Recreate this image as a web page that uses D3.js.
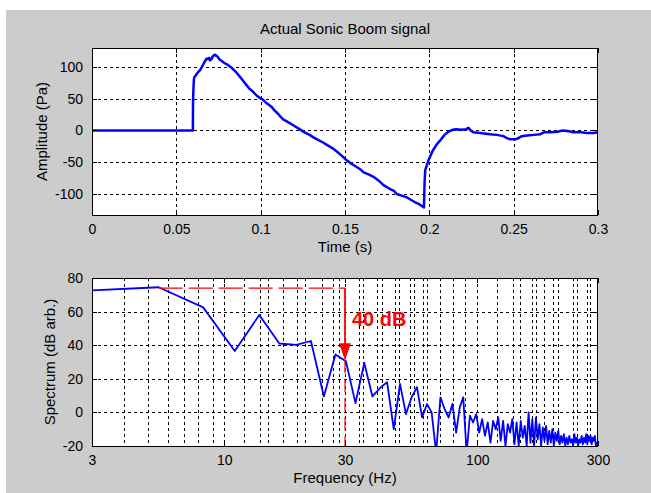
<!DOCTYPE html>
<html><head><meta charset="utf-8">
<script src="https://cdn.jsdelivr.net/npm/d3@7/dist/d3.min.js"></script>
<style>body{margin:0;background:#fff}svg{display:block}text{font-family:"Liberation Sans",Arial,Helvetica,sans-serif;fill:#000}</style>
</head><body><svg id="c" width="651" height="493"></svg>
<script>
// ---------- data ----------
const chartTitle = "Actual Sonic Boom signal";
const topXLabel = "Time (s)";
const topYLabel = "Amplitude (Pa)";
const botXLabel = "Frequency (Hz)";
const botYLabel = "Spectrum (dB arb.)";

const timeTicks = [0, 0.05, 0.1, 0.15, 0.2, 0.25, 0.3];
const timeTickLabels = ["0", "0.05", "0.1", "0.15", "0.2", "0.25", "0.3"];
const ampTicks = [-100, -50, 0, 50, 100];
const ampTickLabels = ["-100", "-50", "0", "50", "100"];
const freqTicks = [3, 10, 30, 100, 300];
const freqTickLabels = ["3", "10", "30", "100", "300"];
const dbTicks = [-20, 0, 20, 40, 60, 80];
const dbTickLabels = ["-20", "0", "20", "40", "60", "80"];
const freqGrid = [4, 5, 6, 6.9, 7.9, 9, 10, 12, 13.8, 14.9, 17.1, 19.4, 20.8, 24.3, 26.9, 28.4, 30,
  34.1, 35.4, 40.1, 42, 47.3, 49, 54.2, 56.2, 61, 63.3, 71.2, 80.2, 89.4, 100,
  119.7, 138.4, 147.5, 164.5, 170.6, 183.6, 199, 208.5, 238.9, 247.8, 271.4, 279];

const signalTime = [0, 0.0598, 0.0599, 0.0601, 0.0604, 0.0607, 0.0614, 0.0621, 0.0630, 0.0641, 0.0650, 0.0660,
  0.0670, 0.0680, 0.0688, 0.0695, 0.0700, 0.0708, 0.0715, 0.0722, 0.0730, 0.0738, 0.0745, 0.0755, 0.0765,
  0.0775, 0.0785, 0.0800, 0.0815, 0.0830, 0.0845, 0.0860, 0.0875, 0.0890, 0.0905, 0.0920, 0.0935, 0.0950,
  0.0965, 0.0980, 0.0995, 0.1010, 0.1030, 0.1050, 0.1065, 0.1080, 0.1100, 0.1120, 0.1135, 0.1150, 0.1170,
  0.1200, 0.1230, 0.1260, 0.1290, 0.1313, 0.1340, 0.1370, 0.1400, 0.1432, 0.1460, 0.1490, 0.1510, 0.1530,
  0.1560, 0.1590, 0.1610, 0.1640, 0.1669, 0.1700, 0.1728, 0.1760, 0.1790, 0.1807, 0.1840, 0.1866, 0.1890,
  0.1916, 0.1940, 0.1962, 0.1968, 0.1972, 0.1976, 0.1985, 0.1995, 0.2020, 0.2044, 0.2070, 0.2090, 0.2104,
  0.2120, 0.2140, 0.2160, 0.2190, 0.2220, 0.2232, 0.2245, 0.2261, 0.2300, 0.2360, 0.2400, 0.2439, 0.2460,
  0.2480, 0.2509, 0.2530, 0.2548, 0.2580, 0.2620, 0.2657, 0.2680, 0.2720, 0.2760, 0.2790, 0.2820, 0.2855,
  0.2900, 0.2934, 0.2973, 0.3000];
const signalAmp = [0, 0, 45, 63, 80, 84, 86, 89, 92, 95, 99, 104,
  109, 113, 112, 114, 110, 112, 116, 118, 119, 117, 116, 112, 110,
  108, 106, 104, 101, 98, 94, 90, 85, 80, 75, 70, 65, 62,
  58, 54, 51, 49, 44, 40, 37, 32, 27, 21, 17, 15, 12,
  7, 2, -3, -7, -11, -15, -19, -24, -29, -35, -42, -47, -51,
  -56, -61, -66, -69, -73, -79, -86, -91, -95, -100, -103, -105, -109,
  -113, -116, -120, -121, -80, -62, -55, -47, -32, -22, -14, -7, -4,
  -1, 1, 2, 1, 2, 4, 0, -3, -4, -6, -7, -9, -12,
  -14, -14, -12, -9, -8, -7, -6, -3, -3, -2, 0, -1, -3,
  -3, -4, -4, -3];

const specFreq = [2.75, 5.5, 8.25, 11, 13.75, 16.5, 19.25, 22, 24.75, 27.5, 30.25, 33, 35.75, 38.5, 41.25,
  44, 46.75, 49.5, 52.25, 55, 57.75, 60.5, 63.25, 66, 68.75, 71.5, 74.25, 77, 79.75, 82.5, 85.25, 88, 90.75,
  93.5, 96.25, 99, 101.75, 104.5, 107.25, 110, 112.75, 115.5, 118.25, 121, 123.75, 126.5, 129.25, 132, 134.75,
  137.5, 140.25, 143, 145.75, 148.5, 151.25, 154, 156.75, 159.5, 162.25, 165, 167.75, 170.5, 173.25, 176,
  178.75, 181.5, 184.25, 187, 189.75, 192.5, 195.25, 198, 200.75, 203.5, 206.25, 209, 211.75, 214.5, 217.25,
  220, 222.75, 225.5, 228.25, 231, 233.75, 236.5, 239.25, 242, 244.75, 247.5, 250.25, 253, 255.75, 258.5,
  261.25, 264, 266.75, 269.5, 272.25, 275, 277.75, 280.5, 283.25, 286, 288.75, 291.5, 294.25, 297, 299.75];
const specDb = [72.3, 74.5, 62.5, 36.5, 58, 41, 40.2, 42.5, 9.5, 34.5, 30.5, 5.5, 29.5, 9.5, 14.5,
  18, -10, 17, -1, 9, 15, -3, 5, 0, -24, 9, 2, -3, 5, -12, 3, 9, -24,
  -2, -6, -1, -12, -4, -14, -6, -18, -5, -10, -3, -17, -5, -20, -7, -12,
  -4, -19, -6, -20, -5, -15, -8, -20, 0, -18, -4, -20, -3, -16, -7,
  -20, -9, -17, -8, -19, -11, -18, -10, -20, -12, -17, -11, -19, -14, -18,
  -13, -20, -15, -19, -14, -18, -16, -20, -13, -18, -15, -20, -16, -18, -14,
  -19, -15, -18, -13, -19, -14, -17, -14, -19, -15, -17, -14, -20, -18, -19];

const annotStartFreq = 5.5, annotFreq = 30, annotLevel = 74, annotTip = 31, annotBottom = -20;
const annotText = "40 dB";

// ---------- layout ----------
const svg = d3.select("#c");
svg.append("rect").attr("x", 0).attr("y", 0).attr("width", 651).attr("height", 493).attr("fill", "#fff");
svg.append("rect").attr("x", 6).attr("y", 10).attr("width", 645).attr("height", 483).attr("fill", "#cccccc");

const L = 92, R = 598;
const top1 = 48, bot1 = 215, top2 = 278, bot2 = 446;

const xT = d3.scaleLinear().domain([0, 0.3]).range([L, R]);
const yA = d3.scaleLinear().domain([-133, 129.6]).range([bot1, top1]);
const xF = d3.scaleLog().domain([3, 300]).range([L, R]);
const yD = d3.scaleLinear().domain([-20, 80]).range([bot2, top2]);

const gridStyle = g => g.attr("stroke", "#000").attr("stroke-width", 1).attr("stroke-dasharray", "3,3").attr("shape-rendering", "crispEdges");

function panel(top, bot, clipId) {
  svg.append("rect").attr("x", L).attr("y", top).attr("width", R - L).attr("height", bot - top).attr("fill", "#fff");
  svg.append("clipPath").attr("id", clipId).append("rect").attr("x", L).attr("y", top).attr("width", R - L).attr("height", bot - top);
}
panel(top1, bot1, "c1");
panel(top2, bot2, "c2");

// top grid
const g1 = svg.append("g");
g1.selectAll("line.v").data(timeTicks.slice(1, -1)).join("line")
  .attr("x1", d => Math.round(xT(d)) + 0.5).attr("x2", d => Math.round(xT(d)) + 0.5).attr("y1", top1).attr("y2", bot1).call(gridStyle);
g1.selectAll("line.h").data(ampTicks).join("line")
  .attr("y1", d => Math.round(yA(d)) + 0.5).attr("y2", d => Math.round(yA(d)) + 0.5).attr("x1", L).attr("x2", R).call(gridStyle);

// bottom grid
const g2 = svg.append("g");
g2.selectAll("line.v").data(freqGrid).join("line")
  .attr("x1", d => Math.round(xF(d)) + 0.5).attr("x2", d => Math.round(xF(d)) + 0.5).attr("y1", top2).attr("y2", bot2).call(gridStyle);
g2.selectAll("line.h").data(dbTicks.slice(1, -1)).join("line")
  .attr("y1", d => Math.round(yD(d)) + 0.5).attr("y2", d => Math.round(yD(d)) + 0.5).attr("x1", L).attr("x2", R).call(gridStyle);

// axes (ticks inside)
function axes(top, bot, xs, ys, xticks, xlabels, yticks, ylabels) {
  const ax = svg.append("g").attr("shape-rendering", "crispEdges");
  ax.append("g").attr("transform", `translate(0,${bot})`)
    .call(d3.axisBottom(xs).tickValues(xticks).tickFormat((d, i) => xlabels[i]).tickSizeInner(-5).tickSizeOuter(0).tickPadding(9));
  ax.append("g").attr("transform", `translate(0,${top})`)
    .call(d3.axisTop(xs).tickValues(xticks).tickFormat("").tickSizeInner(-5).tickSizeOuter(0));
  ax.append("g").attr("transform", `translate(${L},0)`)
    .call(d3.axisLeft(ys).tickValues(yticks).tickFormat((d, i) => ylabels[i]).tickSizeInner(-5).tickSizeOuter(0).tickPadding(9));
  ax.append("g").attr("transform", `translate(${R},0)`)
    .call(d3.axisRight(ys).tickValues(yticks).tickFormat("").tickSizeInner(-5).tickSizeOuter(0));
  ax.selectAll(".domain").remove();
  ax.selectAll("text").attr("font-size", 14).attr("fill", "#000");
  ax.selectAll("line").attr("stroke", "#000");
  svg.append("rect").attr("x", L + 0.5).attr("y", top + 0.5).attr("width", R - L - 1).attr("height", bot - top)
    .attr("fill", "none").attr("stroke", "#000").attr("stroke-width", 1).attr("shape-rendering", "crispEdges");
}

// signal line
const sigData = signalTime.map((t, i) => [t, signalAmp[i]]);
svg.append("path").datum(sigData).attr("clip-path", "url(#c1)")
  .attr("fill", "none").attr("stroke", "#0000ff").attr("stroke-width", 2.5).attr("stroke-linejoin", "round")
  .attr("d", d3.line().x(d => xT(d[0])).y(d => yA(d[1])));

// spectrum line
const specData = specFreq.map((f, i) => [f, specDb[i]]);
svg.append("path").datum(specData).attr("clip-path", "url(#c2)")
  .attr("fill", "none").attr("stroke", "#0000ff").attr("stroke-width", 1.8).attr("stroke-linejoin", "round")
  .attr("d", d3.line().x(d => xF(d[0])).y(d => yD(d[1])));

// annotation
const red = "#ff0000";
svg.append("path").attr("fill", "none").attr("stroke", red).attr("stroke-width", 1.2).attr("stroke-dasharray", "24,6")
  .attr("d", d3.line()([[xF(annotStartFreq), yD(annotLevel)], [xF(annotFreq), yD(annotLevel)]]));
svg.append("path").attr("fill", "none").attr("stroke", red).attr("stroke-width", 1.2).attr("stroke-dasharray", "13,6")
  .attr("d", d3.line()([[xF(annotFreq), yD(annotTip)], [xF(annotFreq), yD(annotBottom)]]));
svg.append("path").attr("fill", "none").attr("stroke", red).attr("stroke-width", 1.8)
  .attr("d", d3.line()([[xF(annotFreq), yD(annotLevel)], [xF(annotFreq), yD(annotTip) - 14]]));
const ax0 = xF(annotFreq), tipY = yD(annotTip);
svg.append("path").attr("fill", red)
  .attr("d", `M${ax0},${tipY}L${ax0 - 6},${tipY - 17}L${ax0 + 6},${tipY - 17}Z`);
svg.append("text").attr("x", ax0 + 7).attr("y", yD(annotTip) - 34).attr("font-size", 20).attr("font-weight", "bold")
  .style("fill", red).text(annotText);

axes(top1, bot1, xT, yA, timeTicks, timeTickLabels, ampTicks, ampTickLabels);
axes(top2, bot2, xF, yD, freqTicks, freqTickLabels, dbTicks, dbTickLabels);

// titles & labels
svg.append("text").attr("x", (L + R) / 2).attr("y", 34).attr("text-anchor", "middle").attr("font-size", 15).text(chartTitle);
svg.append("text").attr("x", (L + R) / 2).attr("y", 252).attr("text-anchor", "middle").attr("font-size", 15).text(topXLabel);
svg.append("text").attr("x", (L + R) / 2).attr("y", 483).attr("text-anchor", "middle").attr("font-size", 15).text(botXLabel);
svg.append("text").attr("transform", `translate(47,${(top1 + bot1) / 2}) rotate(-90)`).attr("text-anchor", "middle").attr("font-size", 15).text(topYLabel);
svg.append("text").attr("transform", `translate(55,${(top2 + bot2) / 2}) rotate(-90)`).attr("text-anchor", "middle").attr("font-size", 15).text(botYLabel);
</script></body></html>
